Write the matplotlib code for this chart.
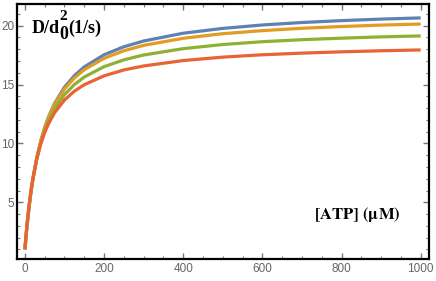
import matplotlib
matplotlib.use("Agg")
import matplotlib.pyplot as plt
from matplotlib.ticker import MultipleLocator

# [ATP] (uM) and D/d0^2 (1/s)
atp = [0, 2, 5, 10, 15, 20, 30, 40, 50, 60, 75, 100, 125, 150, 200, 250,
       300, 400, 500, 600, 700, 800, 900, 1000]
d_blue = [1.00, 1.80, 2.88, 4.45, 5.78, 6.91, 8.76, 10.19, 11.34, 12.28, 13.40,
          14.78, 15.76, 16.50, 17.53, 18.21, 18.70, 19.36, 19.77, 20.06, 20.27,
          20.43, 20.56, 20.66]
d_orange = [1.00, 1.82, 2.93, 4.52, 5.85, 6.98, 8.81, 10.21, 11.33, 12.24, 13.32,
            14.63, 15.56, 16.26, 17.23, 17.87, 18.33, 18.93, 19.32, 19.58, 19.78,
            19.93, 20.05, 20.14]
d_green = [1.00, 1.82, 2.93, 4.51, 5.81, 6.92, 8.67, 10.01, 11.07, 11.92, 12.93,
           14.15, 15.00, 15.64, 16.52, 17.10, 17.51, 18.05, 18.40, 18.64, 18.81,
           18.94, 19.05, 19.13]
d_red = [1.00, 1.87, 3.02, 4.62, 5.92, 7.00, 8.69, 9.95, 10.93, 11.70, 12.61,
         13.69, 14.44, 14.99, 15.74, 16.24, 16.58, 17.04, 17.33, 17.53, 17.67,
         17.78, 17.87, 17.94]

series = [d_blue, d_orange, d_green, d_red]
colors = ["#5E81B5", "#E19C24", "#8FB032", "#EB6235"]

plt.rcParams["mathtext.fontset"] = "stix"

fig = plt.figure(figsize=(4.36, 2.81), dpi=100)
ax = fig.add_axes([0.039, 0.079, 0.944, 0.905])

for ys, c in zip(series, colors):
    ax.plot(atp, ys, color=c, lw=2.3, solid_capstyle="butt")

ax.set_xlim(-20, 1020)
ax.set_ylim(0.2, 21.8)
ax.xaxis.set_major_locator(MultipleLocator(200))
ax.xaxis.set_minor_locator(MultipleLocator(50))
ax.yaxis.set_major_locator(MultipleLocator(5))
ax.yaxis.set_minor_locator(MultipleLocator(1))
ax.set_yticks([5, 10, 15, 20])

ax.tick_params(which="both", direction="in", top=True, right=True,
               color="#777777", labelcolor="#666666", labelsize=8.5)
ax.tick_params(which="major", length=4, width=1.0, pad=3)
ax.tick_params(which="minor", length=2, width=0.8)
ax.tick_params(axis="y", pad=2)
for lab in ax.get_xticklabels() + ax.get_yticklabels():
    lab.set_family("Liberation Sans")

for s in ax.spines.values():
    s.set_color("black")
    s.set_linewidth(1.6)

# y label built from pieces: D/d with a stacked 2 over 0
lbl = dict(transform=ax.transAxes, family="Liberation Serif", weight="bold",
           ha="left", va="baseline")
ax.text(0.0365, 0.888, "D/d", fontsize=13, **lbl)
ax.text(0.1020, 0.864, "0", fontsize=13, **lbl)
ax.text(0.1030, 0.940, "2", fontsize=11, **lbl)
ax.text(0.1240, 0.888, "(1/s)", fontsize=13, **lbl)

ax.text(0.932, 0.156, r"$\mathbf{[ATP]\ (\mu M)}$", transform=ax.transAxes,
        fontsize=12, ha="right", va="baseline")

fig.savefig("out.png", dpi=100)
